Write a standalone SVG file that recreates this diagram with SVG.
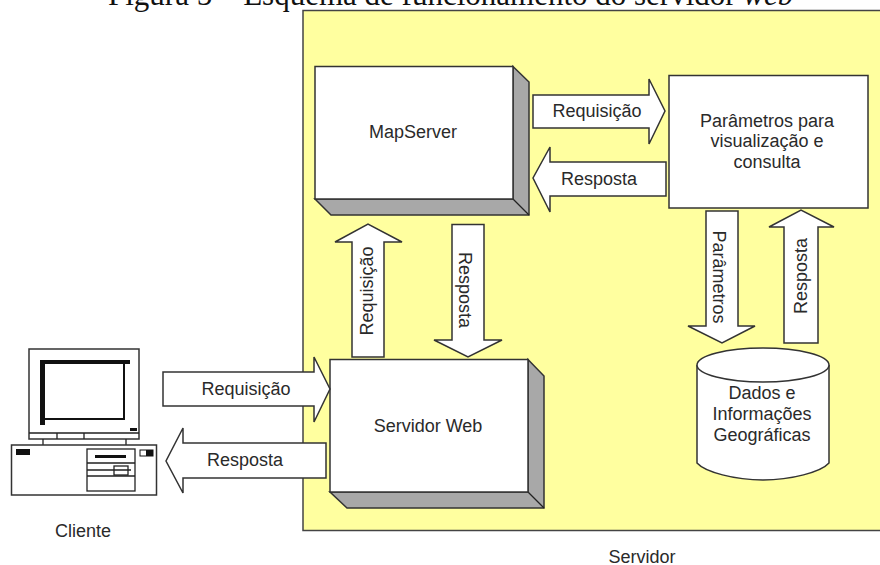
<svg xmlns="http://www.w3.org/2000/svg" width="880" height="565" viewBox="0 0 880 565">
<style>
.t{font-family:"Liberation Sans",Arial,sans-serif;font-size:18px;fill:#2a2a2a;text-anchor:middle}
.title{font-family:"Liberation Serif","Times New Roman",serif;font-size:31px;fill:#111}
.s{fill:#fff;stroke:#333;stroke-width:1.5;stroke-linejoin:miter}
.d{fill:#a8a8a8;stroke:#333;stroke-width:1.5}
.k{fill:#111;stroke:none}
.l{fill:none;stroke:#222;stroke-width:1.3}
</style>
<rect width="880" height="565" fill="#fff"/>
<text class="title" x="108" y="5">Figura 5 – Esquema de funcionamento do servidor <tspan font-style="italic">web</tspan></text>
<g id="servidor"><rect x="303" y="10.500" width="590" height="520" fill="#ffff9f" stroke="#444" stroke-width="1.500"/>
<text class="t" x="642" y="563">Servidor</text></g>
<g id="mapserver">
<path class="d" d="M513 66.500 529 82V215H331L315 199H513Z"/><path class="l" d="M513 199 529 215"/>
<rect class="s" x="315" y="66.500" width="198" height="132.500"/>
<text class="t" x="413" y="138">MapServer</text></g>
<g id="parametros-box"><rect class="s" x="669" y="75.500" width="199" height="132.500"/>
<text class="t" x="767" y="127">Parâmetros para</text><text class="t" x="767" y="147">visualização e</text><text class="t" x="767" y="168">consulta</text></g>
<g id="servidor-web">
<path class="d" d="M528 359.500 544 376V508H347L330 492H528Z"/><path class="l" d="M528 492 544 508"/>
<rect class="s" x="330" y="359.500" width="198" height="132.500"/>
<text class="t" x="428" y="432">Servidor Web</text></g>
<g id="dados">
<path class="s" d="M697 365V463C705 472 735 480 763 480 791 480 821 472 829 463V365"/>
<ellipse class="s" cx="763" cy="365" rx="66" ry="17"/>
<text class="t" x="762" y="399">Dados e</text><text class="t" x="762" y="420">Informações</text><text class="t" x="762" y="441">Geográficas</text></g>
<g id="cliente">
<rect class="s" x="29" y="349" width="110" height="90"/>
<path class="l" d="M29 433H139M57 433V439M84 433V439M43 439V445M126 439V445"/>
<rect x="41" y="361" width="83" height="58" fill="#fff" stroke="#111" stroke-width="2"/>
<path class="k" d="M40 360H130V364H45V425H40Z"/>
<rect class="k" x="130" y="428" width="7" height="3"/>
<rect class="s" x="11.500" y="445" width="145" height="50"/>
<rect class="k" x="16" y="449" width="14" height="6"/>
<rect x="87" y="449" width="48" height="42" fill="#fff" stroke="#222" stroke-width="1.300"/>
<path class="l" d="M87 463H135M87 476H135M87 470H131"/>
<rect class="k" x="95" y="455" width="31" height="3"/>
<rect x="114" y="466" width="14" height="9" fill="none" stroke="#222" stroke-width="1.300"/>
<rect x="140" y="450" width="13" height="6" fill="#fff" stroke="#111"/><rect class="k" x="146" y="450" width="7" height="6"/>
<text class="t" x="83" y="537">Cliente</text></g>
<g id="connectors">
<path class="s" d="M163 372H314V357L330 389 314 422V406H163Z"/><text class="t" x="246" y="395">Requisição</text>
<path class="s" d="M326 443H183V428L166 461 183 493V478H326Z"/><text class="t" x="245" y="466">Resposta</text>
<path class="s" d="M533 95H649V79L665 111 649 144V128H533Z"/><text class="t" x="597" y="117">Requisição</text>
<path class="s" d="M666 162H550V147L533 178 550 212V196H666Z"/><text class="t" x="599" y="185">Resposta</text>
<path class="s" d="M352 357V242H335L368 224 402 242H384V357Z"/><text class="t" transform="translate(373 291) rotate(-90)">Requisição</text>
<path class="s" d="M452 224.500V340H434L468 357 502 340H484V224.500Z"/><text class="t" transform="translate(459 290) rotate(90)">Resposta</text>
<path class="s" d="M706 211V326H688L722 343 755 326H738V211Z"/><text class="t" transform="translate(713 277) rotate(90)">Parâmetros</text>
<path class="s" d="M784 343V227H769L801 210 834 227H818V343Z"/><text class="t" transform="translate(807 276) rotate(-90)">Resposta</text>
</g>
</svg>
